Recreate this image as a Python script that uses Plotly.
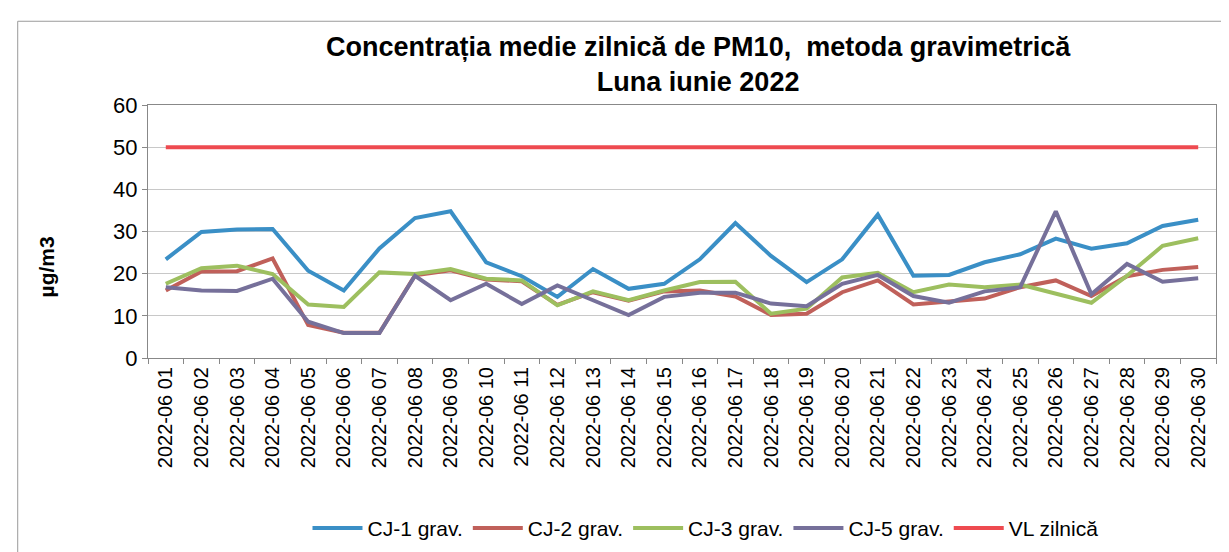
import plotly.graph_objects as go

days = ["2022-06 %02d" % d for d in range(1, 31)]

cj1 = [23.4, 29.9, 30.5, 30.6, 20.7, 16.0, 26.0, 33.2, 34.8, 22.7,
       19.4, 14.5, 21.1, 16.4, 17.6, 23.4, 32.0, 24.2, 18.0, 23.4,
       34.0, 19.5, 19.7, 22.7, 24.6, 28.3, 25.9, 27.2, 31.3, 32.8]
cj2 = [16.0, 20.5, 20.6, 23.6, 7.8, 6.0, 6.0, 19.6, 20.8, 18.6,
       18.2, 12.6, 15.6, 13.6, 15.8, 16.0, 14.6, 10.2, 10.5, 15.6,
       18.4, 12.7, 13.4, 14.1, 16.8, 18.4, 14.7, 19.4, 20.9, 21.6]
cj3 = [17.6, 21.3, 21.9, 19.9, 12.7, 12.1, 20.3, 19.9, 21.1, 18.8,
       18.4, 12.5, 15.8, 13.7, 16.0, 18.0, 18.1, 10.5, 11.7, 19.1,
       20.2, 15.6, 17.4, 16.8, 17.4, 15.2, 13.1, 19.5, 26.6, 28.4]
cj5 = [16.8, 16.0, 15.9, 18.8, 8.6, 5.9, 5.9, 19.5, 13.7, 17.6,
       12.8, 17.2, 13.7, 10.2, 14.5, 15.5, 15.5, 12.9, 12.3, 17.6,
       19.7, 14.7, 13.1, 15.8, 16.8, 34.8, 15.1, 22.3, 18.1, 18.9]
vl = [50] * 30

series = [
    ("CJ-1 grav.", cj1, "#3a8fc6"),
    ("CJ-2 grav.", cj2, "#c0605a"),
    ("CJ-3 grav.", cj3, "#9dbf5f"),
    ("CJ-5 grav.", cj5, "#76709a"),
    ("VL zilnică", vl, "#ee4a50"),
]

fig = go.Figure()
for name, vals, col in series:
    fig.add_trace(go.Scatter(x=days, y=vals, name=name, mode="lines",
                             line=dict(color=col, width=4)))

title_text = "<b>Concentrația medie zilnică de PM10,  metoda gravimetrică<br>Luna iunie 2022</b>"

fig.update_layout(
    width=1229, height=552,
    paper_bgcolor="white", plot_bgcolor="white",
    font=dict(family="Liberation Sans, Arial, sans-serif", color="black"),
    margin=dict(l=140, r=21, t=97, b=198),
    showlegend=True,
    legend=dict(orientation="h", x=0.522, xanchor="center", y=-0.673, yanchor="middle",
                font=dict(size=21), itemwidth=50),
    shapes=[dict(type="rect", xref="paper", yref="paper",
                 x0=-0.122, x1=1.03, y0=-0.85, y1=1.331,
                 line=dict(color="#9a9a9a", width=1))],
    annotations=[
        dict(text=title_text, xref="paper", yref="paper", x=0.515, y=1.16,
             xanchor="center", yanchor="middle", showarrow=False,
             font=dict(size=27)),
        dict(text="<b>µg/m3</b>", xref="paper", yref="paper",
             x=-0.095, y=0.36, textangle=-90, showarrow=False,
             font=dict(size=21), xanchor="center", yanchor="middle"),
    ],
)
fig.update_xaxes(type="category", range=[-0.5, 29.5], tickangle=-90,
                 tickfont=dict(size=20),
                 ticks="outside", tickson="boundaries", ticklen=5, tickcolor="#888888",
                 showline=True, linecolor="#888888", mirror=True,
                 showgrid=False)
fig.update_yaxes(range=[0, 60], dtick=10, tickfont=dict(size=22),
                 ticks="outside", ticklen=5, tickcolor="#888888",
                 showline=True, linecolor="#888888", mirror=True,
                 gridcolor="#c8c8c8", zeroline=False)

fig.write_html("out.html")
